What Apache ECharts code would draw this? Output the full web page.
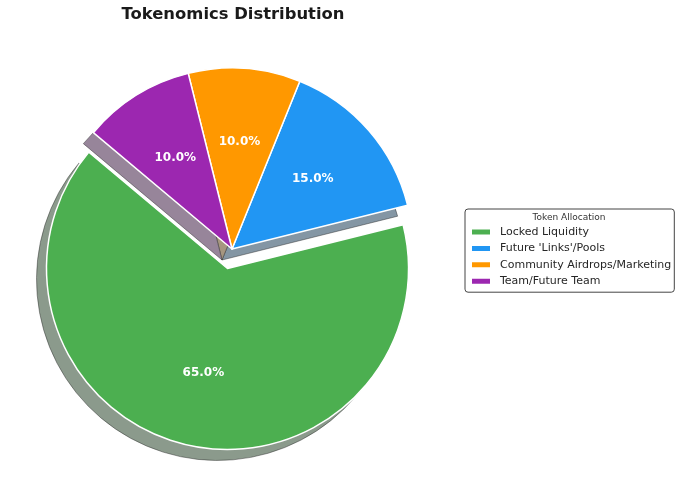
<!DOCTYPE html>
<html>
<head>
<meta charset="utf-8">
<title>Tokenomics Distribution</title>
<script src="https://cdn.jsdelivr.net/npm/echarts@6/dist/echarts.min.js"></script>
<style>
  html, body { margin: 0; padding: 0; background: #fff; }
  #chart { width: 680px; height: 483px; }
</style>
</head>
<body>
<div id="chart"></div>
<script>
// 数据
const categories = ['Locked Liquidity', "Future 'Links'/Pools", 'Community Airdrops/Marketing', 'Team/Future Team'];
const shares = [65, 15, 10, 10];
const sliceColors = ['#4CAF50', '#2196F3', '#FF9800', '#9C27B0'];
const explodedName = 'Locked Liquidity';

const FONT = 'DejaVu Sans';
const CENTER = [232, 249];
const RADIUS = 181;
const EXPLODE = 20;
const SHADOW_DX = -10, SHADOW_DY = 11;

// matplotlib 风格阴影：颜色变暗 + 半透明（叠在白底上）
function shadowColor(hex) {
  const n = parseInt(hex.slice(1), 16);
  const rgb = [(n >> 16) & 255, (n >> 8) & 255, n & 255];
  return 'rgb(' + rgb.map(c => Math.round(0.15 * c + 127.5)).join(',') + ')';
}

function buildData(colorFn) {
  return categories.map((name, i) => ({
    name: name,
    value: shares[i],
    selected: name === explodedName,
    itemStyle: { color: colorFn(i) }
  }));
}

const chart = echarts.init(document.getElementById('chart'), null, { renderer: 'canvas' });

const common = {
  type: 'pie',
  startAngle: 140,
  clockwise: false,
  selectedMode: 'single',
  selectedOffset: EXPLODE,
  avoidLabelOverlap: false,
  silent: true,
  animation: false,
  emphasis: { disabled: true },
  labelLine: { show: false }
};

const option = {
  animation: false,
  title: {
    text: 'Tokenomics Distribution',
    left: 228,
    top: 2,
    textAlign: 'center',
    textStyle: { fontFamily: FONT, fontSize: 16.4, fontWeight: 'bold', color: '#1a1a1a' }
  },
  legend: {
    orient: 'vertical',
    left: 465,
    top: 209,
    padding: [15, 3, 3, 5],
    itemWidth: 20,
    itemHeight: 7,
    itemGap: 0.4,
    icon: 'rect',
    borderColor: '#444',
    borderWidth: 1,
    borderRadius: 3,
    backgroundColor: 'rgba(255,255,255,0.9)',
    selectedMode: false,
    data: categories.map((name, i) => ({ name: name, itemStyle: { color: sliceColors[i] } })),
    textStyle: { fontFamily: FONT, fontSize: 11, color: '#262626', lineHeight: 16, padding: [0, 0, 0, 4] }
  },
  graphic: [{
    type: 'text',
    x: 569,
    y: 218,
    z: 100,
    style: {
      text: 'Token Allocation',
      align: 'center',
      verticalAlign: 'middle',
      fontFamily: FONT,
      fontSize: 9,
      fill: '#333'
    }
  }],
  series: [
    Object.assign({}, common, {
      name: 'main',
      z: 2,
      center: CENTER,
      radius: RADIUS,
      label: { show: false },
      itemStyle: { borderColor: '#fff', borderWidth: 1.5 },
      select: { itemStyle: { borderColor: '#fff', borderWidth: 1.5 } },
      data: buildData(i => sliceColors[i])
    }),
    Object.assign({}, common, {
      name: 'shadow',
      z: 1,
      center: [CENTER[0] + SHADOW_DX, CENTER[1] + SHADOW_DY],
      radius: RADIUS,
      label: { show: false },
      itemStyle: { borderColor: 'rgba(40,40,40,0.45)', borderWidth: 1 },
      select: { itemStyle: { borderColor: 'rgba(40,40,40,0.45)', borderWidth: 1 } },
      data: buildData(i => shadowColor(sliceColors[i]))
    }),
    // 百分比标签层（透明扇区，标签约在 0.6r 处）
    Object.assign({}, common, {
      name: 'labels',
      z: 3,
      center: CENTER,
      radius: [0, RADIUS * 1.15],
      itemStyle: { color: 'rgba(0,0,0,0)', borderWidth: 0 },
      select: { itemStyle: { color: 'rgba(0,0,0,0)', borderWidth: 0 } },
      label: {
        show: true,
        position: 'inside',
        formatter: p => p.percent.toFixed(1) + '%',
        fontFamily: FONT,
        fontSize: 12,
        fontWeight: 'bold',
        color: '#fff'
      },
      data: buildData(() => 'rgba(0,0,0,0)')
    })
  ]
};

chart.setOption(option);
</script>
</body>
</html>
